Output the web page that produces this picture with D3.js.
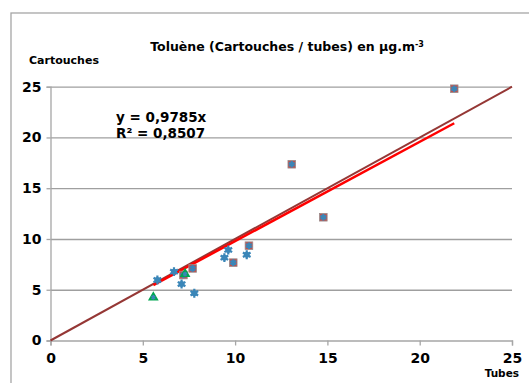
<!DOCTYPE html>
<html>
<head>
<meta charset="utf-8">
<script src="https://cdnjs.cloudflare.com/ajax/libs/d3/7.8.5/d3.min.js"></script>
<style>
body { margin: 0; background: #fff; }
text { font-family: "DejaVu Sans", Verdana, sans-serif; font-weight: bold; fill: #000; }
.grid line { stroke: #9f9f9f; stroke-width: 1.3; }
.grid path { display: none; }
.axis path, .axis line { stroke: #a6a6a6; stroke-width: 1.3; }
</style>
</head>
<body>
<svg width="529" height="383"></svg>
<script>
// series
var tubesStar = [5.79, 6.69, 7.1, 7.79, 9.42, 9.63, 10.63];
var cartStar  = [5.96, 6.78, 5.56, 4.65, 8.16, 8.92, 8.45];
var tubesSq = [7.2, 7.7, 9.9, 10.75, 13.07, 14.78, 21.87];
var cartSq  = [6.45, 7.1, 7.67, 9.34, 17.36, 12.14, 24.8];
var tubesTri = [5.57, 7.29];
var cartTri  = [4.25, 6.55];
var ticks = [0, 5, 10, 15, 20, 25];
var slope = 0.9785;

var svg = d3.select("svg");
svg.append("rect").attr("x", 11).attr("y", 13).attr("width", 530).attr("height", 400)
  .attr("fill", "#fff").attr("stroke", "#a6a6a6").attr("stroke-width", 1.3);

var x = d3.scaleLinear().domain([0, 25]).range([50.5, 512]);
var y = d3.scaleLinear().domain([0, 25]).range([340.5, 86.7]);

svg.append("g").attr("class", "grid")
  .attr("transform", "translate(50.5,0)")
  .call(d3.axisLeft(y).tickValues(ticks.slice(1)).tickSize(-(512 - 50.5)).tickFormat(""));

svg.append("g").attr("class", "axis")
  .attr("transform", "translate(0,340.5)")
  .call(d3.axisBottom(x).tickValues(ticks).tickSize(5).tickPadding(6))
  .selectAll("text").attr("dy", "0.85em")
  .style("font-size", "14px").style("font-weight", "bold");
svg.append("g").attr("class", "axis")
  .attr("transform", "translate(50.5,0)")
  .call(d3.axisLeft(y).tickValues(ticks).tickSize(4).tickPadding(5))
  .selectAll("text").style("font-size", "14px").style("font-weight", "bold");

// 1:1 line and trend line
svg.append("line").attr("x1", x(0)).attr("y1", y(0)).attr("x2", x(25)).attr("y2", y(25))
  .attr("stroke", "#953735").attr("stroke-width", 2);
var allX = tubesStar.concat(tubesSq, tubesTri);
var x0 = d3.min(allX), x1 = d3.max(allX);
svg.append("line").attr("x1", x(x0)).attr("y1", y(slope * x0)).attr("x2", x(x1)).attr("y2", y(slope * x1))
  .attr("stroke", "#ff0000").attr("stroke-width", 2.5);

function drawStar(g, sz) {
  g.append("path").attr("d", d3.symbol().type(d3.symbolAsterisk).size(sz)).attr("fill", "none")
    .attr("stroke", "#3a86b8").attr("stroke-width", 2.2);
}

tubesSq.forEach(function (t, i) {
  var g = svg.append("g").attr("transform", "translate(" + x(t) + "," + y(cartSq[i]) + ")");
  g.append("rect").attr("x", -3.8).attr("y", -3.8).attr("width", 7.6).attr("height", 7.6)
    .attr("fill", "#c0504d").attr("stroke", "#9a8a8a").attr("stroke-width", 0.8);
  drawStar(g, 30);
});
tubesStar.forEach(function (t, i) {
  var g = svg.append("g").attr("transform", "translate(" + x(t) + "," + y(cartStar[i]) + ")");
  g.append("circle").attr("r", 3).attr("fill", "#3a86b8");
  drawStar(g, 55);
});
tubesTri.forEach(function (t, i) {
  var g = svg.append("g").attr("transform", "translate(" + x(t) + "," + y(cartTri[i]) + ")");
  g.append("path").attr("d", d3.symbol().type(d3.symbolTriangle).size(50)).attr("fill", "#00a651");
  g.append("path").attr("d", d3.symbol().type(d3.symbolAsterisk).size(14)).attr("fill", "none")
    .attr("stroke", "#3a86b8").attr("stroke-width", 1.5);
});

// texts
var title = svg.append("text").attr("x", 287).attr("y", 51).attr("text-anchor", "middle")
  .style("font-size", "12.5px").text("Toluène (Cartouches / tubes) en µg.m");
title.append("tspan").attr("dy", -4).style("font-size", "8px").text("-3");
svg.append("text").attr("x", 29).attr("y", 64).style("font-size", "11px").text("Cartouches");
svg.append("text").attr("x", 519).attr("y", 377).attr("text-anchor", "end").style("font-size", "10.5px").text("Tubes");
svg.append("text").attr("x", 116).attr("y", 122).style("font-size", "13.5px").text("y = 0,9785x");
svg.append("text").attr("x", 116).attr("y", 138).style("font-size", "13.5px").text("R² = 0,8507");
</script>
</body>
</html>
